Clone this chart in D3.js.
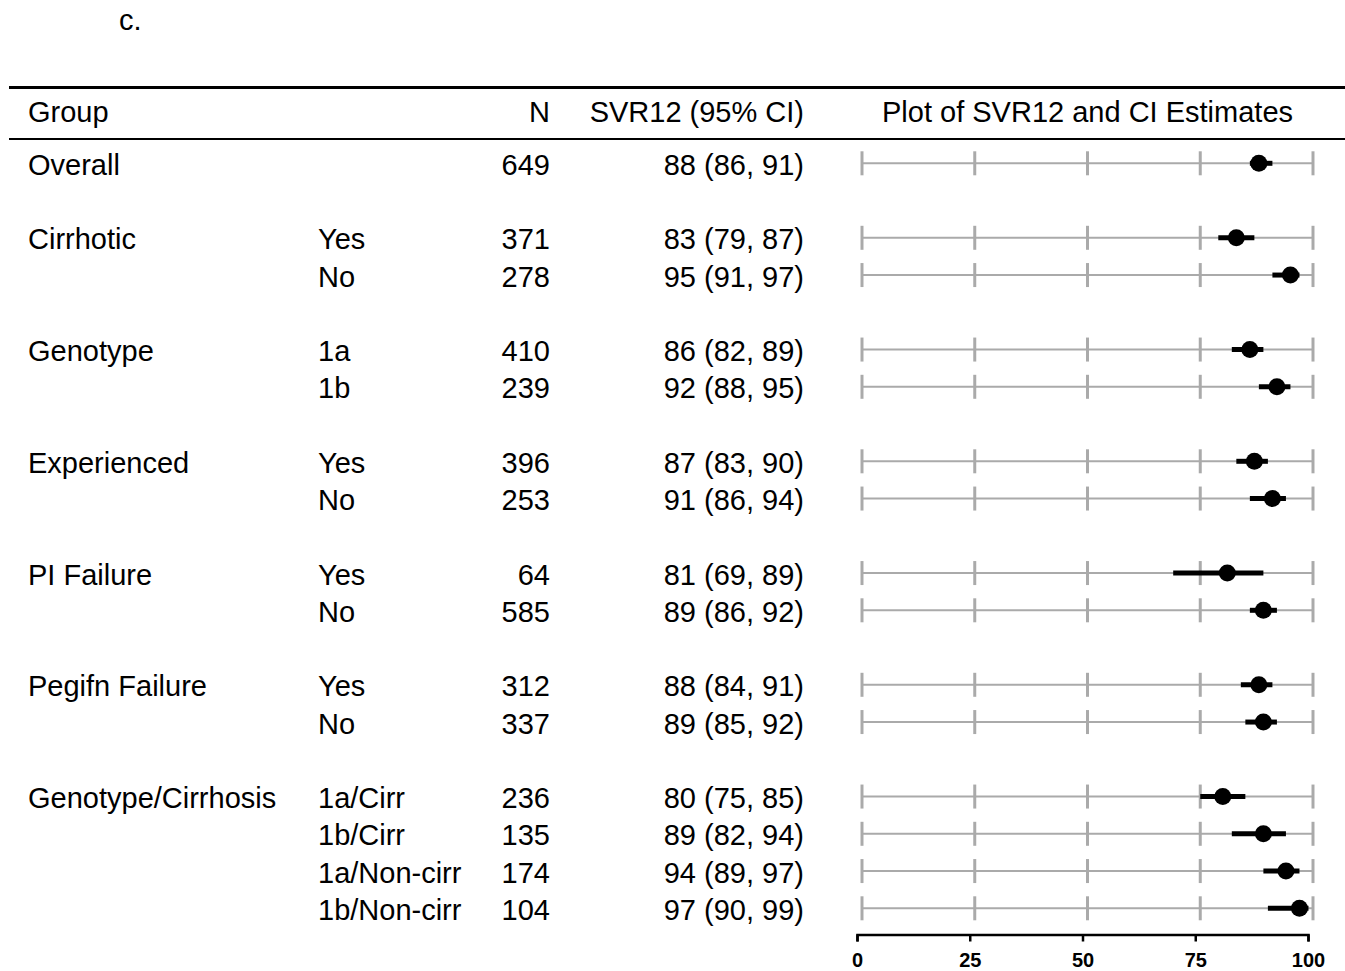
<!DOCTYPE html>
<html>
<head>
<meta charset="utf-8">
<script src="https://cdn.jsdelivr.net/npm/d3@7"></script>
<style>
  html, body { margin: 0; padding: 0; background: #fff; }
  svg { display: block; font-family: "Liberation Sans", Arial, Helvetica, sans-serif; }
</style>
</head>
<body>
<svg id="chart" width="1345" height="971"></svg>
<script>
// Forest plot of SVR12 with 95% confidence intervals by subgroup
const groups    = ["Overall", "Cirrhotic", "", "Genotype", "", "Experienced", "", "PI Failure", "", "Pegifn Failure", "", "Genotype/Cirrhosis", "", "", ""];
const subgroups = ["", "Yes", "No", "1a", "1b", "Yes", "No", "Yes", "No", "Yes", "No", "1a/Cirr", "1b/Cirr", "1a/Non-cirr", "1b/Non-cirr"];
const nValues   = [649, 371, 278, 410, 239, 396, 253, 64, 585, 312, 337, 236, 135, 174, 104];
const estimates = [88, 83, 95, 86, 92, 87, 91, 81, 89, 88, 89, 80, 89, 94, 97];
const lowerCI   = [86, 79, 91, 82, 88, 83, 86, 69, 86, 84, 85, 75, 82, 89, 90];
const upperCI   = [91, 87, 97, 89, 95, 90, 94, 89, 92, 91, 92, 85, 94, 97, 99];
const axisTicks = [0, 25, 50, 75, 100];
const headers   = ["Group", "N", "SVR12 (95% CI)", "Plot of SVR12 and CI Estimates"];

// Each new group starts after one blank line
let slot = -1;
const rows = groups.map((g, i) => {
  if (i === 0) slot = 0;
  else slot += g ? 2 : 1;
  return {
    slot, group: g, sub: subgroups[i], n: nValues[i],
    est: estimates[i], lo: lowerCI[i], hi: upperCI[i]
  };
});

const svg = d3.select("#chart");
const W = 1345;

const x = d3.scaleLinear().domain([0, 100]).range([862, 1313]);
const y = d3.scaleLinear().domain([0, 20]).range([163.3, 908.3]);

const fontSize = 29;
const gray = "#aaaaaa";
const baseOff = 11.5;

// Panel label
svg.append("text").attr("x", 119).attr("y", 30)
  .attr("font-size", fontSize).text("c.");

// Header rules
svg.append("line").attr("x1", 9).attr("x2", W).attr("y1", 87.5).attr("y2", 87.5)
  .attr("stroke", "#000").attr("stroke-width", 3);
svg.append("line").attr("x1", 9).attr("x2", W).attr("y1", 139).attr("y2", 139)
  .attr("stroke", "#000").attr("stroke-width", 2);

// Header text
const hy = 122;
svg.append("text").attr("x", 28).attr("y", hy).attr("font-size", fontSize).text(headers[0]);
svg.append("text").attr("x", 550).attr("y", hy).attr("font-size", fontSize)
  .attr("text-anchor", "end").text(headers[1]);
svg.append("text").attr("x", 804).attr("y", hy).attr("font-size", fontSize)
  .attr("text-anchor", "end").text(headers[2]);
svg.append("text").attr("x", (x(0) + x(100)) / 2).attr("y", hy).attr("font-size", fontSize)
  .attr("text-anchor", "middle").text(headers[3]);

// Table columns
const rowG = svg.append("g").selectAll("g").data(rows).join("g")
  .attr("transform", d => `translate(0,${y(d.slot)})`);

rowG.append("text").attr("x", 28).attr("y", baseOff).attr("font-size", fontSize)
  .text(d => d.group);
rowG.append("text").attr("x", 318).attr("y", baseOff).attr("font-size", fontSize)
  .text(d => d.sub);
rowG.append("text").attr("x", 550).attr("y", baseOff).attr("font-size", fontSize)
  .attr("text-anchor", "end").text(d => d.n);
rowG.append("text").attr("x", 804).attr("y", baseOff).attr("font-size", fontSize)
  .attr("text-anchor", "end").text(d => `${d.est} (${d.lo}, ${d.hi})`);

// Gray reference line with gridline ticks for every row
rowG.append("line").attr("x1", x(0)).attr("x2", x(100))
  .attr("stroke", gray).attr("stroke-width", 2);
rowG.selectAll("line.tick").data(axisTicks).join("line")
  .attr("class", "tick")
  .attr("x1", t => x(t)).attr("x2", t => x(t))
  .attr("y1", -12).attr("y2", 12)
  .attr("stroke", gray).attr("stroke-width", 3);

// Confidence interval and point estimate
rowG.append("line")
  .attr("x1", d => x(d.lo)).attr("x2", d => x(d.hi))
  .attr("stroke", "#000").attr("stroke-width", 5);
rowG.append("circle")
  .attr("cx", d => x(d.est)).attr("r", 8.5).attr("fill", "#000");

// Bottom axis
const axis = d3.axisBottom(x).tickValues(axisTicks).tickSize(7).tickPadding(11)
  .tickSizeOuter(7);
const axG = svg.append("g").attr("transform", "translate(-5,934.5)").call(axis);
axG.select(".domain").attr("stroke", "#000").attr("stroke-width", 2.5);
axG.selectAll(".tick line").attr("stroke", "#000").attr("stroke-width", 2.5);
axG.selectAll(".tick text").attr("font-size", 20).attr("font-weight", "bold")
  .attr("fill", "#000")
  .attr("font-family", "Liberation Sans, Arial, sans-serif");
</script>
</body>
</html>
